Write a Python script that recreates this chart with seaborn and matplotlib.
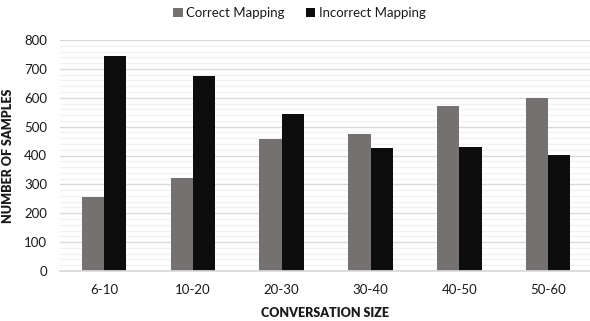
import matplotlib
matplotlib.use("Agg")
import matplotlib.pyplot as plt
from matplotlib.ticker import MultipleLocator
import seaborn as sns
import pandas as pd

sizes = ["6-10", "10-20", "20-30", "30-40", "40-50", "50-60"]
correct = [255, 323, 457, 473, 570, 598]
incorrect = [744, 677, 542, 426, 430, 401]
series = ["Correct Mapping", "Incorrect Mapping"]
colors = ["#767171", "#0D0D0D"]

df = pd.DataFrame({
    "size": sizes * 2,
    "count": correct + incorrect,
    "mapping": [series[0]] * len(sizes) + [series[1]] * len(sizes),
})

sns.set_theme(style="white")
plt.rcParams["font.family"] = ["Lato", "DejaVu Sans"]

fig = plt.figure(figsize=(5.90, 3.21), dpi=100)
ax = fig.add_axes([59.5 / 590, 50 / 321, 1 - 59.5 / 590, 231 / 321])

sns.barplot(data=df, x="size", y="count", hue="mapping", palette=colors,
            width=0.5, ax=ax, saturation=1, legend=True, linewidth=0)

ax.set_ylim(0, 800)
ax.set_xlim(-0.5, 5.47)
ax.yaxis.set_major_locator(MultipleLocator(100))
ax.yaxis.set_minor_locator(MultipleLocator(20))
ax.grid(axis="y", which="major", color="#D9D9D9", linewidth=1.0)
ax.grid(axis="y", which="minor", color="#F2F2F2", linewidth=1.0)
ax.set_axisbelow(True)
for s in ["top", "right", "left"]:
    ax.spines[s].set_visible(False)
ax.spines["bottom"].set_color("#D9D9D9")
ax.tick_params(axis="both", which="both", length=0, labelsize=9.5, colors="#1A1A1A")
ax.tick_params(axis="x", pad=9)
ax.tick_params(axis="y", pad=9)

ax.set_xlabel("CONVERSATION SIZE", fontsize=9, fontweight="heavy", color="#1A1A1A", labelpad=8)
ax.set_ylabel("NUMBER OF SAMPLES", fontsize=9, fontweight="heavy", color="#1A1A1A", labelpad=7)

handles, labels = ax.get_legend_handles_labels()
ax.legend_.remove()
fig.legend(handles, labels, loc="upper center", bbox_to_anchor=(0.508, 1.015), ncol=2,
           frameon=False, fontsize=9.5, handlelength=0.7, handleheight=0.7,
           handletextpad=0.3, columnspacing=1.6, labelcolor="#1A1A1A")

fig.savefig("out.png", dpi=100)
